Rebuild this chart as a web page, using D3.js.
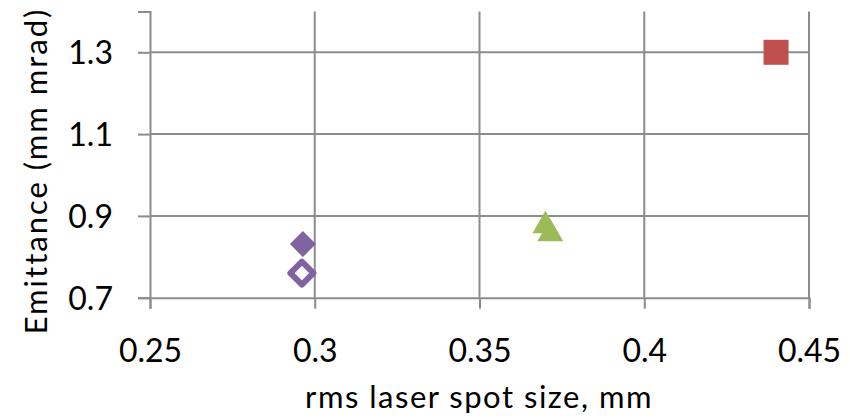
<!DOCTYPE html>
<html>
<head>
<meta charset="utf-8">
<script src="https://cdn.jsdelivr.net/npm/d3@7"></script>
<style>
  body { margin: 0; background: #fff; }
  svg text { font-family: Lato, "Open Sans", sans-serif; fill: #000; }
</style>
</head>
<body>
<div id="chart"></div>
<script>
// 数据：横轴为 rms 激光光斑尺寸（mm），纵轴为发射度（mm mrad）
const xTicks = [0.25, 0.3, 0.35, 0.4, 0.45];
const yTicks = [0.7, 0.9, 1.1, 1.3];
const xDomain = [0.25, 0.45];
const yDomain = [0.7, 1.4];

const squarePts = [{ x: 0.44, y: 1.30 }];
const trianglePts = [{ x: 0.370, y: 0.881 }, { x: 0.3715, y: 0.861 }];
const diamondFilledPts = [{ x: 0.2964, y: 0.831 }];
const diamondOpenPts = [{ x: 0.2961, y: 0.760 }];

const W = 850, H = 419;
const margin = { left: 150, right: 41, top: 11.4, bottom: 121.3 };

const svg = d3.select('#chart').append('svg')
  .attr('width', W).attr('height', H);

const x = d3.scaleLinear().domain(xDomain).range([margin.left, W - margin.right]);
const y = d3.scaleLinear().domain(yDomain).range([H - margin.bottom, margin.top]);

const gridColor = '#8c8c8c';

// 网格线
svg.append('g').selectAll('line.v')
  .data(xTicks.slice(1))
  .join('line')
  .attr('x1', d => x(d)).attr('x2', d => x(d))
  .attr('y1', y.range()[1]).attr('y2', y.range()[0])
  .attr('stroke', gridColor).attr('stroke-width', 2);

svg.append('g').selectAll('line.h')
  .data(yTicks.slice(1))
  .join('line')
  .attr('x1', x.range()[0]).attr('x2', x.range()[1])
  .attr('y1', d => y(d)).attr('y2', d => y(d))
  .attr('stroke', gridColor).attr('stroke-width', 2);

// x 轴
const xAxis = svg.append('g')
  .attr('transform', `translate(0,${y(yDomain[0])})`)
  .call(d3.axisBottom(x).tickValues(xTicks).tickSize(11).tickPadding(30)
    .tickFormat(d => String(d)));

// y 轴
const yAxis = svg.append('g')
  .attr('transform', `translate(${x(xDomain[0])},0)`)
  .call(d3.axisLeft(y).tickValues(yTicks).tickSize(12).tickPadding(25)
    .tickFormat(d3.format('.1f')));

[xAxis, yAxis].forEach(g => {
  g.select('.domain').attr('stroke', gridColor).attr('stroke-width', 2);
  g.selectAll('.tick line').attr('stroke', gridColor).attr('stroke-width', 2);
  g.selectAll('.tick text').style('font-size', '32px').attr('fill', '#000');
});
yAxis.selectAll('.tick text').attr('dy', '0.36em');
xAxis.selectAll('.tick text').attr('dy', '0.72em');

// 坐标轴标题
svg.append('text')
  .attr('x', 479).attr('y', 408)
  .attr('text-anchor', 'middle')
  .style('font-size', '31px')
  .style('letter-spacing', '1.5px')
  .text('rms laser spot size, mm');

svg.append('text')
  .attr('transform', 'translate(47,171) rotate(-90)')
  .attr('text-anchor', 'middle')
  .style('font-size', '31px')
  .style('letter-spacing', '2px')
  .text('Emittance (mm mrad)');

// 数据点
const sq = 25;
svg.append('g').selectAll('rect')
  .data(squarePts)
  .join('rect')
  .attr('x', d => x(d.x) - sq / 2)
  .attr('y', d => y(d.y) - sq / 2)
  .attr('width', sq).attr('height', sq)
  .attr('fill', '#c0504d');

const tri = d3.symbol().type(d3.symbolTriangle).size(290);
svg.append('g').selectAll('path')
  .data(trianglePts)
  .join('path')
  .attr('d', tri)
  .attr('transform', d => `translate(${x(d.x)},${y(d.y) + 2})`)
  .attr('fill', '#9bbb59');

const diamond = s => `M0,${-s}L${s},0L0,${s}L${-s},0Z`;
svg.append('g').selectAll('path')
  .data(diamondFilledPts)
  .join('path')
  .attr('d', diamond(13))
  .attr('transform', d => `translate(${x(d.x)},${y(d.y)})`)
  .attr('fill', '#8064a2');

svg.append('g').selectAll('path')
  .data(diamondOpenPts)
  .join('path')
  .attr('d', diamond(11.5))
  .attr('transform', d => `translate(${x(d.x)},${y(d.y)})`)
  .attr('fill', '#fff')
  .attr('stroke', '#8064a2')
  .attr('stroke-width', 6)
  .attr('stroke-linejoin', 'round');
</script>
</body>
</html>
